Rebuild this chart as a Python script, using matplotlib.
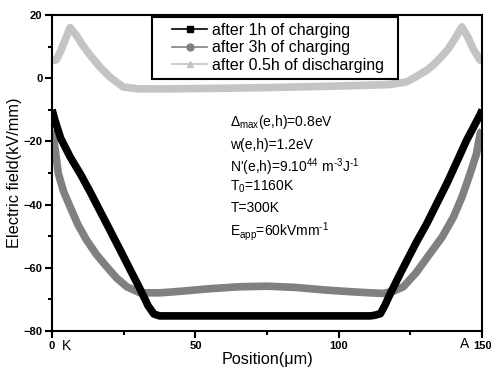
import matplotlib
import matplotlib.pyplot as plt
from matplotlib.lines import Line2D
from matplotlib.patches import Rectangle
from matplotlib.ticker import MultipleLocator
matplotlib.use('Agg')

plt.rcParams['font.family'] = ['Liberation Sans', 'DejaVu Sans']
plt.rcParams['mathtext.fontset'] = 'custom'
plt.rcParams['mathtext.rm'] = 'Liberation Sans'
plt.rcParams['mathtext.it'] = 'Liberation Sans:italic'
plt.rcParams['mathtext.default'] = 'regular'

# after 1h of charging
x_1h = [0, 1, 3, 6.3, 10, 13.3, 17, 20.2, 24, 27.2, 30.7, 33.5, 35.5, 37.5,
        50, 75, 100, 111, 112.5, 114.5, 116, 118, 121, 123.7, 127, 130.7,
        134, 137.7, 141, 144.6, 147, 149.3, 150]
y_1h = [-10, -13.3, -19, -24.9, -30.5, -36, -42.5, -48.1, -54.8, -60.5, -66.7,
        -72, -74.6, -75.2, -75.2, -75.2, -75.2, -75.2, -75, -74.5, -72, -68.1,
        -62.6, -57.8, -52, -46, -40, -33.3, -26.8, -19.6, -15.5, -11.5, -10]

# after 3h of charging
x_3h = [0, 0.5, 2.2, 4, 6.3, 9, 12.1, 15.5, 19.1, 22.5, 26.1, 30.7, 37.7,
        45, 55, 65, 75, 85, 95, 105, 110.9, 115.6, 119, 122.5, 127, 131.8,
        136, 140, 143, 145.8, 148, 149.3, 150]
y_3h = [-16.5, -18.6, -30.2, -35.8, -40.7, -46.3, -51.3, -55.8, -59.7, -63.2,
        -66, -67.9, -67.9, -67.4, -66.6, -66, -65.8, -66.2, -67, -67.6, -67.9,
        -68.1, -67.4, -66, -61.5, -55.5, -50.3, -43.9, -37.5, -30.2, -24,
        -17.5, -16.5]

# after 0.5h of discharging
x_05h = [0, 1.5, 3, 4.5, 6.3, 8.5, 11, 13.5, 16.7, 20, 24.8, 30, 40, 50, 60,
         75, 90, 100, 112, 118, 123.7, 127, 130.7, 133, 135.3, 138, 140.5,
         142.9, 145, 147, 149.3, 150]
y_05h = [5.5, 5.8, 8.5, 12, 16, 13.5, 10, 7, 3.5, 0.5, -2.8, -3.4, -3.4, -3.3,
         -3.2, -3, -2.7, -2.5, -2.2, -2, -1.2, 0.5, 2.5, 4.2, 6.3, 9, 12.5,
         16.2, 13, 9, 5.7, 5.5]

labels = ['after 1h of charging', 'after 3h of charging',
          'after 0.5h of discharging']
colors = ['#000000', '#808080', '#c4c4c4']
markers = ['s', 'o', '^']

fig = plt.figure(figsize=(4.91, 3.72), dpi=100)
ax = fig.add_axes([0.106, 0.110, 0.876, 0.850])

ax.plot(x_05h, y_05h, color=colors[2], lw=5.5, solid_capstyle='butt')
ax.plot(x_3h, y_3h, color=colors[1], lw=5.5, solid_capstyle='butt')
ax.plot(x_1h, y_1h, color=colors[0], lw=5.5, solid_capstyle='butt')

ax.set_xlim(0, 150)
ax.set_ylim(-80, 20)
ax.xaxis.set_major_locator(MultipleLocator(50))
ax.xaxis.set_minor_locator(MultipleLocator(25))
ax.yaxis.set_major_locator(MultipleLocator(20))
ax.yaxis.set_minor_locator(MultipleLocator(10))
ax.tick_params(which='both', direction='out', width=1.5, top=False, right=False)
ax.tick_params(which='major', length=5, labelsize=8, pad=2)
ax.tick_params(which='minor', length=3)
for lab in ax.get_xticklabels() + ax.get_yticklabels():
    lab.set_fontweight('bold')
for sp in ax.spines.values():
    sp.set_linewidth(1.5)

ax.set_xlabel('Position(\u03bcm)', fontsize=11.7, labelpad=1)
ax.set_ylabel('Electric field(kV/mm)', fontsize=11.7, labelpad=1)

# legend without its own frame, box drawn separately so the left gap matches
handles = [Line2D([0], [0], color=c, lw=1.2, marker=m, markersize=5)
           for c, m in zip(colors, markers)]
leg = ax.legend(handles, labels, loc='upper left', bbox_to_anchor=(0.279, 0.975),
                fontsize=11.5, frameon=False, handlelength=2.2,
                handletextpad=0.3, borderpad=0, labelspacing=0.15,
                borderaxespad=0)
ax.add_patch(Rectangle((0.2326, 0.797), 0.572, 0.197, transform=ax.transAxes,
                       fill=False, edgecolor='black', lw=1.5, zorder=5))

tx = 62.2
ax.text(tx, -13.9, r'$\Delta_{max}$(e,h)=0.8eV', fontsize=10, va='center')
ax.text(tx, -21.2, 'w(e,h)=1.2eV', fontsize=10, va='center')
ax.text(tx, -28.2, r"N'(e,h)=9.10$^{44}$ m$^{\text{-3}}$J$^{\text{-1}}$",
        fontsize=10, va='center')
ax.text(tx, -34.4, r'T$_0$=1160K', fontsize=10, va='center')
ax.text(tx, -41.1, 'T=300K', fontsize=10, va='center')
ax.text(tx, -48.4, r'E$_{app}$=60kVmm$^{\text{-1}}$', fontsize=10, va='center')

ax.text(3.3, -84.6, 'K', fontsize=10, va='center', clip_on=False)
ax.text(142.2, -84.0, 'A', fontsize=10, va='center', clip_on=False)

plt.savefig('out.png', dpi=100)
plt.close('all')
